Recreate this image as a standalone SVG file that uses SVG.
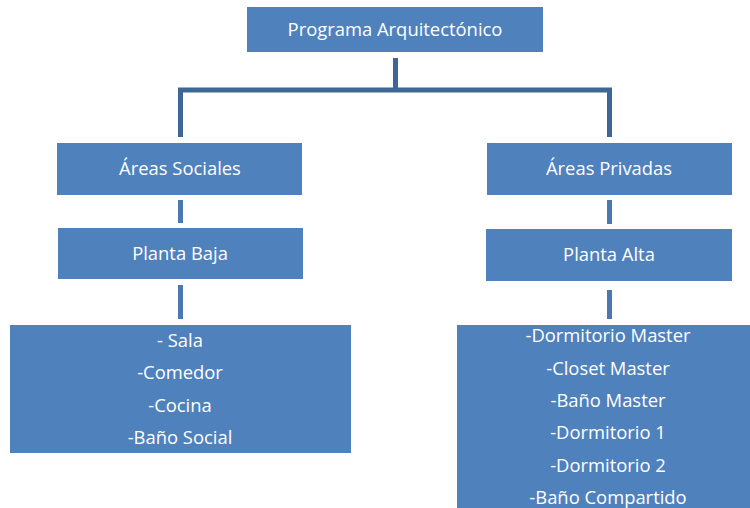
<svg xmlns="http://www.w3.org/2000/svg" width="750" height="508" viewBox="0 0 750 508">
<style>
.box{fill:#4F81BD}
.t{fill:#FFFFFF;font-family:"Open Sans","Liberation Sans",Arial,sans-serif;font-size:18.4px;text-anchor:middle}
.main{fill:none;stroke:#3E6798;stroke-width:5}
.short{fill:none;stroke:#4A78B0;stroke-width:5}
</style>
<rect width="750" height="508" fill="#FFFFFF"/>
<g id="connectors">
<path class="main" d="M395.5 58 V90 M180.5 137 V90 H609.5 V137"/>
<path class="short" d="M180.5 200 V223 M180.5 285 V319 M609.5 200 V224 M609.5 290 V319"/>
</g>
<g id="n-programa">
<rect class="box" x="247" y="7" width="296" height="45"/>
<text class="t" x="395" y="36">Programa Arquitectónico</text>
</g>
<g id="n-sociales">
<rect class="box" x="57" y="143" width="245" height="52"/>
<text class="t" x="180" y="175">Áreas Sociales</text>
</g>
<g id="n-privadas">
<rect class="box" x="487" y="143" width="245" height="52"/>
<text class="t" x="609" y="175">Áreas Privadas</text>
</g>
<g id="n-baja">
<rect class="box" x="58" y="228" width="245" height="51"/>
<text class="t" x="180" y="260">Planta Baja</text>
</g>
<g id="n-alta">
<rect class="box" x="486" y="229" width="246" height="52"/>
<text class="t" x="609" y="261">Planta Alta</text>
</g>
<g id="n-lista-baja">
<rect class="box" x="10" y="325" width="341" height="128"/>
<text class="t" x="180" y="347">- Sala</text>
<text class="t" x="180" y="379">-Comedor</text>
<text class="t" x="180" y="412">-Cocina</text>
<text class="t" x="180" y="444">-Baño Social</text>
</g>
<g id="n-lista-alta">
<rect class="box" x="457" y="325" width="293" height="183"/>
<text class="t" x="608" y="342">-Dormitorio Master</text>
<text class="t" x="608" y="375">-Closet Master</text>
<text class="t" x="608" y="407">-Baño Master</text>
<text class="t" x="608" y="439">-Dormitorio 1</text>
<text class="t" x="608" y="472">-Dormitorio 2</text>
<text class="t" x="608" y="504">-Baño Compartido</text>
</g>
</svg>
